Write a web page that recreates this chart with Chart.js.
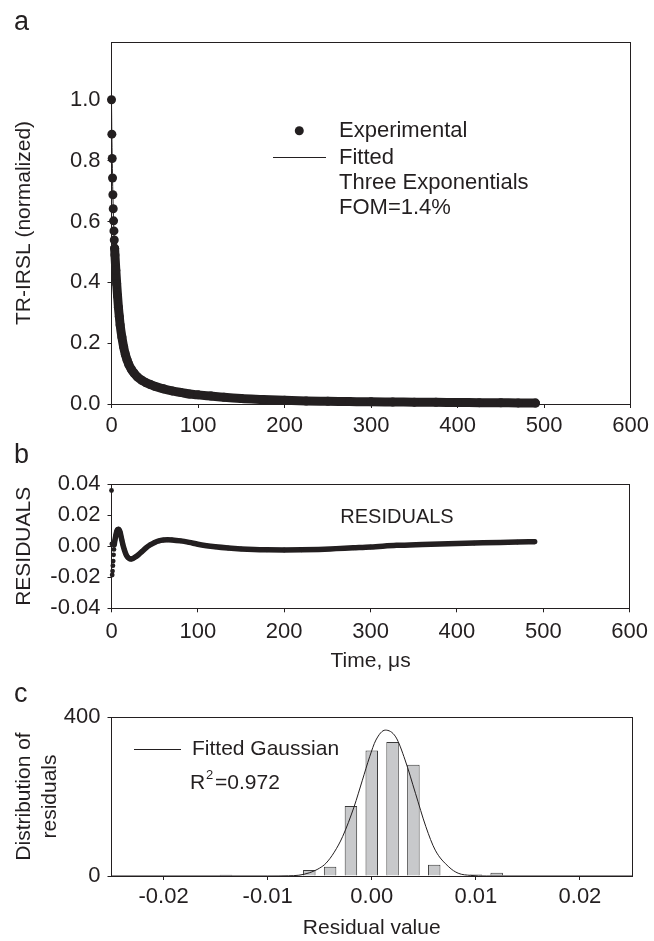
<!DOCTYPE html>
<html>
<head>
<meta charset="utf-8">
<script src="https://cdn.jsdelivr.net/npm/chart.js@4.4.1/dist/chart.umd.min.js"></script>
<style>
  html, body { margin: 0; padding: 0; background: #fff; }
  .panel { position: absolute; left: 0; width: 654px; }
  canvas { display: block; }
</style>
</head>
<body>
<div class="panel" style="top:0px"><canvas id="decayChart" width="654" height="440"></canvas></div>
<div class="panel" style="top:440px"><canvas id="residualChart" width="654" height="240"></canvas></div>
<div class="panel" style="top:680px"><canvas id="histChart" width="654" height="261"></canvas></div>
<script>
// Panel a - TR-IRSL decay, time in microseconds
const decayTime  = [0, 0.4, 0.8, 1.2, 1.6, 2.0, 2.4, 2.8, 3.2, 3.6, 4, 5, 6, 7, 8, 9, 10, 12, 14, 16, 18, 20, 23, 26, 30, 35, 40, 45, 50, 60, 70, 80, 90, 100, 115, 130, 150, 175, 200, 225, 250, 275, 300, 325, 350, 375, 400, 425, 450, 470, 490];
const decayValue = [1.0, 0.887, 0.807, 0.743, 0.688, 0.642, 0.602, 0.569, 0.539, 0.512, 0.49, 0.44, 0.395, 0.355, 0.318, 0.288, 0.26, 0.22, 0.188, 0.163, 0.145, 0.13, 0.114, 0.102, 0.089, 0.078, 0.07, 0.064, 0.058, 0.05, 0.043, 0.038, 0.033, 0.03, 0.026, 0.022, 0.018, 0.015, 0.012, 0.01, 0.009, 0.008, 0.007, 0.0065, 0.006, 0.0055, 0.005, 0.0045, 0.004, 0.0035, 0.003];
const timeTicks  = [0, 100, 200, 300, 400, 500, 600];
const decayTicks = [0, 0.2, 0.4, 0.6, 0.8, 1.0];

// Panel b - residuals
const resTime  = [0, 0.4, 0.8, 1.2, 1.6, 2.0, 2.4, 2.8, 3.2, 4, 5, 6, 7, 8, 9, 10, 11, 12, 13, 15, 17, 19, 21, 23, 25, 28, 31, 35, 40, 45, 50, 55, 60, 65, 70, 80, 90, 100, 110, 120, 135, 150, 165, 180, 200, 220, 240, 260, 280, 300, 330, 360, 390, 420, 450, 470, 490];
const resValue = [0.036, 0.0015, -0.0185, -0.016, -0.0125, -0.0095, -0.0055, -0.002, 0.001, 0.004, 0.007, 0.0095, 0.0107, 0.011, 0.0105, 0.009, 0.0065, 0.004, 0.0015, -0.0025, -0.0055, -0.0072, -0.008, -0.0082, -0.0078, -0.0068, -0.0055, -0.0035, -0.001, 0.001, 0.0025, 0.0035, 0.004, 0.0042, 0.0041, 0.0035, 0.0025, 0.0013, 0.0004, -0.0003, -0.0011, -0.0017, -0.0021, -0.0023, -0.0024, -0.0023, -0.002, -0.0015, -0.001, -0.0005, 0.0006, 0.0012, 0.0017, 0.0021, 0.0025, 0.0027, 0.003];
const resTicks = [-0.04, -0.02, 0, 0.02, 0.04];

// Panel c - histogram of residuals + fitted gaussian
const binCenter = [-0.014, -0.008, -0.006, -0.004, -0.002, 0.000, 0.002, 0.004, 0.006, 0.008, 0.010, 0.012];
const binCount  = [3, 2, 15, 23, 176, 316, 337, 280, 28, 2, 4, 8];
const gaussX = [-0.025, -0.01, -0.008, -0.007, -0.006, -0.005, -0.0044, -0.0036, -0.0028, -0.0017, -0.0009, -0.0002, 0.0004, 0.0013, 0.0023, 0.0032, 0.0042, 0.0052, 0.0061, 0.0074, 0.0083, 0.0095, 0.011, 0.025];
const gaussY = [0, 0, 0.5, 2, 8, 20, 32, 60, 99, 174, 241, 300, 342, 367, 350, 292, 208, 124, 65, 23, 7, 1.5, 0, 0];
const histXTicks = [-0.02, -0.01, 0, 0.01, 0.02];
const histYTicks = [0, 400];

const INK = '#231f20';
const FONT = '"Liberation Sans", Arial, sans-serif';
Chart.defaults.font.family = FONT;
Chart.defaults.font.size = 22;
Chart.defaults.color = INK;

const toPoints = (xs, ys) => xs.map((x, i) => ({ x: x, y: ys[i] }));
const fixTicks = (list) => (scale) => { scale.ticks = list.map(v => ({ value: v })); };
const fmt = (d) => (v) => (Math.abs(v) < 1e-9 ? 0 : v).toFixed(d);

// box round the plot area
const frame = {
    id: 'frame',
    afterDraw(chart) {
        const { ctx, chartArea: a } = chart;
        const al = (p) => Math.round(p - 0.5) + 0.5;
        ctx.save();
        ctx.strokeStyle = INK;
        ctx.lineWidth = 1;
        ctx.strokeRect(al(a.left), al(a.top), al(a.right) - al(a.left), al(a.bottom) - al(a.top));
        ctx.restore();
    }
};

// text / legend marks drawn on top of a chart
function notes(draw) {
    return {
        id: 'notes',
        afterDraw(chart) {
            const ctx = chart.ctx;
            ctx.save();
            ctx.fillStyle = INK;
            ctx.strokeStyle = INK;
            ctx.textBaseline = 'middle';
            draw(ctx, (txt, x, y, size, align) => {
                ctx.font = size + 'px ' + FONT;
                ctx.textAlign = align || 'left';
                ctx.fillText(txt, x, y);
            });
            ctx.restore();
        }
    };
}

function xAxis(min, max, ticks, decimals, height, pad, title) {
    return {
        type: 'linear', min: min, max: max, offset: false,
        afterBuildTicks: fixTicks(ticks),
        ticks: { padding: pad, maxRotation: 0, autoSkip: false, callback: fmt(decimals) },
        grid: { offset: false, drawOnChartArea: false, tickLength: 4, color: INK },
        border: { color: INK },
        title: title ? { display: true, text: title, font: { size: 21 }, padding: 0 } : { display: false },
        afterFit: (s) => { s.height = height; }
    };
}

function yAxis(min, max, ticks, decimals, title) {
    return {
        type: 'linear', min: min, max: max,
        afterBuildTicks: fixTicks(ticks),
        ticks: { padding: 7, autoSkip: false, callback: fmt(decimals) },
        grid: { drawOnChartArea: false, tickLength: 4, color: INK },
        border: { color: INK },
        title: { display: true, text: title, font: { size: 21 }, padding: { top: 12, bottom: 0 } },
        afterFit: (s) => { s.width = 111.5; }
    };
}

const common = {
    responsive: false,
    devicePixelRatio: 1,
    animation: false,
    events: [],
    plugins: { legend: { display: false }, tooltip: { enabled: false } }
};

// a - decay curve
new Chart(document.getElementById('decayChart'), {
    type: 'line',
    data: {
        datasets: [{
            label: 'Experimental',
            data: toPoints(decayTime, decayValue),
            borderColor: INK,
            borderWidth: 9,
            borderCapStyle: 'round',
            borderJoinStyle: 'round',
            cubicInterpolationMode: 'monotone',
            segment: { borderColor: (c) => c.p0.parsed.x < 3.5 ? 'rgba(0,0,0,0)' : INK },
            pointRadius: 4.5,
            pointBorderWidth: 0,
            pointBackgroundColor: INK,
            clip: false
        }, {
            label: 'Fitted',
            data: toPoints(decayTime, decayValue),
            borderColor: INK,
            borderWidth: 1,
            cubicInterpolationMode: 'monotone',
            pointRadius: 0,
            clip: false
        }]
    },
    options: Object.assign({}, common, {
        layout: { padding: { top: 42, right: 22, left: 0, bottom: 0 } },
        scales: {
            x: xAxis(0, 600, timeTicks, 0, 36, 5, null),
            y: yAxis(0, 1.19, decayTicks, 1, 'TR-IRSL (normalized)')
        }
    }),
    plugins: [frame, notes((ctx, text) => {
        ctx.font = '27px ' + FONT;
        ctx.textBaseline = 'alphabetic';
        ctx.fillText('a', 14, 30);
        ctx.textBaseline = 'middle';
        ctx.beginPath();
        ctx.arc(299.3, 130.7, 4.5, 0, Math.PI * 2);
        ctx.fill();
        ctx.lineWidth = 1;
        ctx.beginPath();
        ctx.moveTo(273, 157.5);
        ctx.lineTo(326, 157.5);
        ctx.stroke();
        text('Experimental', 339, 131, 22);
        text('Fitted', 339, 158, 22);
        text('Three Exponentials', 339, 183, 22);
        text('FOM=1.4%', 339, 208, 22);
    })]
});

// b - residuals
new Chart(document.getElementById('residualChart'), {
    type: 'line',
    data: {
        datasets: [{
            label: 'Residuals',
            data: toPoints(resTime, resValue),
            borderColor: INK,
            borderWidth: 5.5,
            borderCapStyle: 'round',
            borderJoinStyle: 'round',
            cubicInterpolationMode: 'monotone',
            segment: { borderColor: (c) => c.p0.parsed.x < 3.1 ? 'rgba(0,0,0,0)' : INK },
            pointRadius: 2.4,
            pointBorderWidth: 0,
            pointBackgroundColor: INK,
            clip: false
        }]
    },
    options: Object.assign({}, common, {
        layout: { padding: { top: 44.3, right: 22, left: 0, bottom: 5.7 } },
        scales: {
            x: xAxis(0, 600, timeTicks, 0, 66, 6, 'Time, \u03bcs'),
            y: yAxis(-0.04, 0.04, resTicks, 2, 'RESIDUALS')
        }
    }),
    plugins: [frame, notes((ctx, text) => {
        ctx.font = '27px ' + FONT;
        ctx.textBaseline = 'alphabetic';
        ctx.fillText('b', 14, 23);
        ctx.textBaseline = 'middle';
        text('RESIDUALS', 397, 77, 20, 'center');
    })]
});

// c - distribution of residuals
new Chart(document.getElementById('histChart'), {
    type: 'bar',
    data: {
        datasets: [{
            type: 'line',
            label: 'Fitted Gaussian',
            data: toPoints(gaussX, gaussY),
            borderColor: INK,
            borderWidth: 1,
            cubicInterpolationMode: 'monotone',
            pointRadius: 0,
            clip: false
        }, {
            type: 'bar',
            label: 'Residuals',
            data: toPoints(binCenter, binCount),
            backgroundColor: '#c8c9cb',
            borderColor: '#3a3a3a',
            borderWidth: 1,
            barPercentage: 0.6,
            categoryPercentage: 1.0
        }]
    },
    options: Object.assign({}, common, {
        layout: { padding: { top: 37, right: 22, left: 0, bottom: 0 } },
        scales: {
            x: xAxis(-0.025, 0.025, histXTicks, 2, 65, 4, 'Residual value'),
            y: yAxis(0, 400, histYTicks, 0, ['Distribution of', 'residuals'])
        }
    }),
    plugins: [frame, notes((ctx, text) => {
        ctx.font = '27px ' + FONT;
        ctx.textBaseline = 'alphabetic';
        ctx.fillText('c', 14, 22);
        ctx.textBaseline = 'middle';
        ctx.lineWidth = 1;
        ctx.beginPath();
        ctx.moveTo(134, 69.5);
        ctx.lineTo(181, 69.5);
        ctx.stroke();
        text('Fitted Gaussian', 192, 69, 21);
        text('R', 190, 103, 21);
        text('2', 206, 95, 13);
        text('=0.972', 215, 103, 21);
    })]
});
</script>
</body>
</html>
